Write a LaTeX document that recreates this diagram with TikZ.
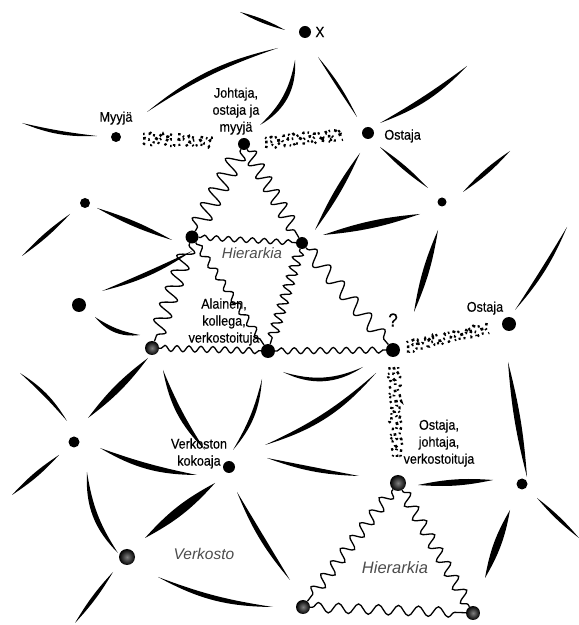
\documentclass[tikz,border=0pt]{standalone}
\usepackage{fontspec}
\setmainfont{Liberation Sans}
\newfontfamily\narrowfont{Liberation Sans}[FakeStretch=0.9,FakeBold=0.35]
\usetikzlibrary{positioning}
\usetikzlibrary{decorations.pathmorphing}
\newcommand{\blade}[4]{\fill (#1) to[bend left=#3] (#2) to[bend right=#4] (#1);}

\begin{document}
\begin{tikzpicture}[x=1pt,y=1pt,
  hub/.style={circle,fill=black,inner sep=0pt,minimum size=#1},
  ghub/.style={circle,inner sep=0pt,minimum size=#1,inner color=black!50,outer color=black},
  lbl/.style={inner sep=0pt,align=center,font=\narrowfont\fontsize{14}{17}\selectfont},
  area/.style={inner sep=0pt,text=black!70,font=\itshape\fontsize{15}{15}\selectfont},
  wave/.style 2 args={line width=1.3pt,decorate,decoration={snake,amplitude=#1,segment length=#2,pre length=2pt,post length=2pt}},
  jitter/.style 2 args={decorate,decoration={random steps,segment length=2.5pt,amplitude=1.8pt,pre=moveto,pre length=#1,post=moveto,post length=#2}},
  band/.style 2 args={jitter={#1}{#2},line width=2.7pt,dash pattern=on 2.5pt off 3pt on 1.5pt off 6pt on 3pt off 2.5pt on 1.5pt off 5pt},
  bandb/.style 2 args={jitter={#1}{#2},line width=2.4pt,dash pattern=on 1.5pt off 4pt on 3pt off 2.5pt on 2pt off 7pt on 2.5pt off 3pt},
  bandc/.style 2 args={jitter={#1}{#2},line width=2.2pt,dash pattern=on 2.5pt off 5pt on 1.5pt off 2.5pt on 2pt off 3pt on 2pt off 6pt}]

  \useasboundingbox (0,0) rectangle (579,625);
  \pgfmathsetseed{7}

  % the loose ties
  \blade{22,502}{97,489}{-3}{-12}
  \blade{147,513}{278,577}{13}{7}
  \blade{240,613}{285,595}{7}{-7}
  \blade{295,565}{260,500}{32}{18}
  \blade{318,568}{357,508}{7}{-1}
  \blade{380,502}{467,559}{-3}{-13}
  \blade{380,478}{428,437}{6}{-6}
  \blade{510,474}{463,433}{7}{-7}
  \blade{360,472}{315,395}{6}{-6}
  \blade{323,390}{420,411}{7}{-7}
  \blade{438,395}{414,313}{7}{-7}
  \blade{567,398}{515,315}{9}{1}
  \blade{22,369}{70,411}{6}{-6}
  \blade{97,417}{172,385}{6}{-6}
  \blade{102,334}{192,374}{-1}{-10}
  \blade{95,308}{140,290}{-11}{-29}
  \blade{20,252}{67,204}{13}{3}
  \blade{88,207}{148,267}{8}{-8}
  \blade{12,130}{59,170}{7}{-7}
  \blade{100,177}{197,150}{-4}{-15}
  \blade{87,153}{118,72}{-12}{-24}
  \blade{163,255}{205,175}{-5}{-17}
  \blade{262,246}{233,175}{18}{8}
  \blade{215,142}{145,87}{10}{-10}
  \blade{237,133}{290,45}{0}{-9}
  \blade{113,53}{75,2}{6}{-6}
  \blade{158,48}{273,18}{-6}{-14}
  \blade{283,253}{363,258}{-20}{-30}
  \blade{265,180}{376,252}{-8}{-16}
  \blade{267,167}{359,149}{0}{-9}
  \blade{418,140}{493,145}{8}{-8}
  \blade{508,263}{527,148}{5}{-5}
  \blade{510,115}{485,47}{10}{-10}
  \blade{537,127}{579,87}{6}{-6}

  % actors
  \node[hub=12pt] (dX) at (305,593) {};
  \node[hub=10pt] (dMyyja) at (116,488) {};
  \node[hub=12pt] (dJohtaja) at (244,481) {};
  \node[hub=12pt] (dOstaja) at (368,492) {};
  \node[hub=9pt] (dR1) at (442,423) {};
  \node[hub=10pt] (dL1) at (85,422) {};
  \node[hub=13pt] (dH1) at (192,388) {};
  \node[hub=12pt] (dH2) at (302,382) {};
  \node[hub=14pt] (dL2) at (79,320) {};
  \node[ghub=14pt] (dH3) at (152,277) {};
  \node[hub=14pt] (dH4) at (268,274) {};
  \node[hub=14pt] (dQ) at (393,275) {};
  \node[hub=14pt] (dOstajaB) at (509,301) {};
  \node[hub=11pt] (dL3) at (74,183) {};
  \node[hub=12pt] (dKokoaja) at (229,158) {};
  \node[ghub=16pt] (dOJV) at (398,142) {};
  \node[hub=11pt] (dR2) at (522,141) {};
  \node[ghub=16pt] (dVerkosto) at (127,68) {};
  \node[ghub=14pt] (dB1) at (303,18) {};
  \node[ghub=14pt] (dB2) at (473,12) {};

  % hierarchies
  \draw[wave={9pt}{17pt}] (dJohtaja) -- (dH1);
  \draw[wave={7pt}{15pt}] (dJohtaja) -- (dH2);
  \draw[wave={2.5pt}{12pt}] (dH1) -- (dH2);
  \draw[wave={8pt}{17pt}] (dH1) -- (dH3);
  \draw[wave={3.5pt}{14pt}] (dH1) -- (dH4);
  \draw[wave={5pt}{10pt}] (dH2) -- (dH4);
  \draw[wave={7pt}{21pt}] (dH2) -- (dQ);
  \draw[wave={3pt}{12pt}] (dH3) -- (dH4);
  \draw[wave={3pt}{13pt}] (dH4) -- (dQ);
  \draw[wave={6pt}{16pt}] (dOJV) -- (dB1);
  \draw[wave={6pt}{16pt}] (dOJV) -- (dB2);
  \draw[wave={5pt}{20pt}] (dB1) -- (dB2);

  % market ties
  \draw[band={22pt}{25pt}] (dMyyja) -- (dJohtaja);
  \draw[bandb={22pt}{25pt},transform canvas={yshift=4.5pt}] (dMyyja) -- (dJohtaja);
  \draw[bandc={22pt}{25pt},transform canvas={yshift=-4.5pt}] (dMyyja) -- (dJohtaja);
  \draw[band={15pt}{19pt}] (dJohtaja) -- (dOstaja);
  \draw[bandb={15pt}{19pt},transform canvas={yshift=4.5pt}] (dJohtaja) -- (dOstaja);
  \draw[bandc={15pt}{19pt},transform canvas={yshift=-4.5pt}] (dJohtaja) -- (dOstaja);
  \draw[band={7pt}{13pt}] (dQ) -- (dOstajaB);
  \draw[bandb={7pt}{13pt},transform canvas={yshift=4.5pt}] (dQ) -- (dOstajaB);
  \draw[bandc={7pt}{13pt},transform canvas={yshift=-4.5pt}] (dQ) -- (dOstajaB);
  \draw[band={10pt}{18pt}] (dQ) -- (dOJV);
  \draw[bandb={10pt}{18pt},transform canvas={xshift=4.5pt}] (dQ) -- (dOJV);
  \draw[bandc={10pt}{18pt},transform canvas={xshift=-4.5pt}] (dQ) -- (dOJV);

  % labels
  \node[lbl,right=4pt of dX,font=\narrowfont\fontsize{15}{15}\selectfont] (tX) {X};
  \node[lbl,above=7pt of dMyyja] (tMyyja) {Myyjä};
  \node[lbl,above=3pt of dJohtaja,xshift=-8pt] (tJohtaja) {Johtaja,\\ostaja ja\\myyjä};
  \node[lbl,right=10pt of dOstaja,yshift=-3pt] (tOstaja) {Ostaja};
  \node[lbl,above=2pt of dOstajaB,xshift=-24pt] (tOstajaB) {Ostaja};
  \node[lbl,above=16pt of dQ,font=\narrowfont\fontsize{19}{19}\selectfont] (tQ) {?};
  \node[lbl,above=8pt of dOJV,xshift=41pt] (tOJV) {Ostaja,\\johtaja,\\verkostoituja};
  \node[lbl] (tAlainen) at (224,303) {Alainen,\\kollega,\\verkostoituja};
  \node[lbl] (tKokoaja) at (199,171.5) {Verkoston\\kokoaja};
  \node[area] (tHierarkiaA) at (252,372) {Hierarkia};
  \node[area,font=\itshape\fontsize{16.5}{16.5}\selectfont] (tHierarkiaB) at (395,57) {Hierarkia};
  \node[area,font=\itshape\fontsize{15.5}{15.5}\selectfont] (tVerkosto) at (204,71) {Verkosto};
\end{tikzpicture}
\end{document}
